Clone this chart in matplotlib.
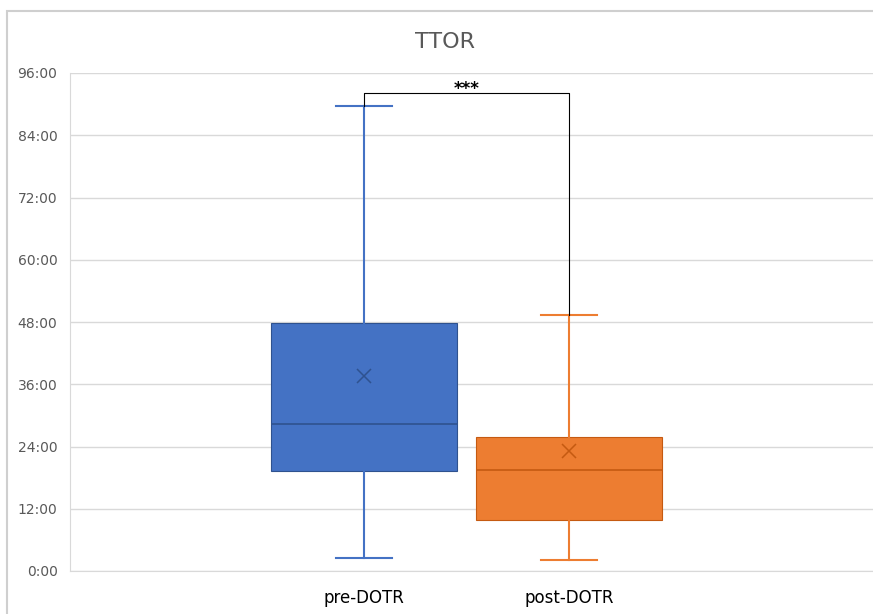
import matplotlib
matplotlib.use("Agg")
import matplotlib.pyplot as plt
from matplotlib.patches import Rectangle

# Box statistics (hours)
groups = ["pre-DOTR", "post-DOTR"]
whisker_low = [2.5, 2.1]
q1 = [19.3, 9.8]
median = [28.3, 19.5]
q3 = [47.8, 25.8]
whisker_high = [89.6, 49.3]
mean = [37.6, 23.1]
colors = ["#4472C4", "#ED7D31"]
dark_colors = ["#2F528F", "#C55A11"]
y_ticks = [0, 12, 24, 36, 48, 60, 72, 84, 96]
y_tick_labels = ["0:00", "12:00", "24:00", "36:00", "48:00", "60:00", "72:00", "84:00", "96:00"]
sig_level = 92.1
sig_label = "***"

fig = plt.figure(figsize=(8.73, 6.14), dpi=100)
W, H = 873, 614
ax = fig.add_axes([70 / W, 1 - 571 / H, 1 - 70 / W, (571 - 73) / H])

# chart area border (partly cut off in the original screenshot)
fig.patches.append(Rectangle((7 / W, -0.05), 1.2, 1 - 11 / H + 0.05,
                             transform=fig.transFigure, fill=False,
                             edgecolor="#CFCFCF", linewidth=1.5, zorder=0))

positions = [1, 2]
for i, pos in enumerate(positions):
    stats = [dict(whislo=whisker_low[i], q1=q1[i], med=median[i], q3=q3[i],
                  whishi=whisker_high[i], mean=mean[i], fliers=[])]
    ax.bxp(stats, positions=[pos], widths=0.91, patch_artist=True,
           showmeans=True, manage_ticks=False,
           boxprops=dict(facecolor=colors[i], edgecolor=dark_colors[i], linewidth=0.8),
           medianprops=dict(color=dark_colors[i], linewidth=1.2),
           whiskerprops=dict(color=colors[i], linewidth=1.5),
           capprops=dict(color=colors[i], linewidth=1.5),
           capwidths=0.273,
           meanprops=dict(marker="x", markeredgecolor=dark_colors[i],
                          markersize=10, markeredgewidth=1.1),
           zorder=3)

# significance bracket
ax.plot([positions[0], positions[0], positions[1], positions[1]],
        [whisker_high[0], sig_level, sig_level, whisker_high[1]],
        color="black", linewidth=0.8, zorder=4)
ax.text((positions[0] + positions[1]) / 2, sig_level - 0.9, sig_label,
        ha="center", va="bottom", fontsize=12, fontweight="bold", color="black")

ax.set_xlim(1 - (364 - 70) / 205, 2 + (873 - 569) / 205)
ax.set_ylim(0, 96)
ax.set_yticks(y_ticks)
ax.set_yticklabels(y_tick_labels)
ax.set_xticks(positions)
ax.set_xticklabels(groups)
ax.tick_params(axis="y", length=0, pad=9, labelsize=10, labelcolor="#595959")
ax.tick_params(axis="x", length=0, pad=13, labelsize=12, labelcolor="black")
ax.yaxis.grid(True, color="#D9D9D9", linewidth=1)
ax.set_axisbelow(True)
for side in ["top", "right"]:
    ax.spines[side].set_visible(False)
ax.spines["left"].set_color("#D9D9D9")
ax.spines["bottom"].set_color("#D9D9D9")

fig.text(445 / W, 1 - 42 / H, "TTOR", ha="center", va="center",
         fontsize=16, color="#595959")

fig.savefig("out.png", dpi=100)
